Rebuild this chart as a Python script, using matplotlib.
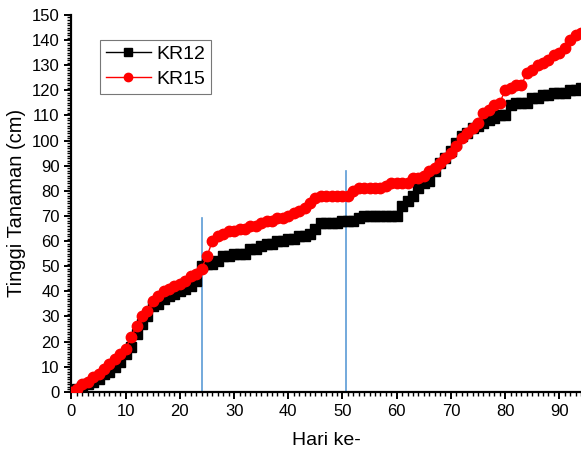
import numpy as np
import matplotlib.pyplot as plt
from matplotlib.ticker import MultipleLocator

plt.rcParams['font.family'] = ['Liberation Sans', 'DejaVu Sans']

# Hari ke- (days)
days = list(range(0, 95))

# Tinggi tanaman (cm)
kr12 = [0, 1, 2, 3, 4, 5, 7, 8, 10, 12,
        15, 18, 23, 27, 30, 34, 35, 37, 38, 39,
        40, 41, 42, 44, 50, 51, 51, 52, 54, 54,
        55, 55, 55, 57, 57, 58, 59, 59, 60, 60,
        61, 61, 62, 62, 63, 65, 67, 67, 67, 67,
        68, 68, 68, 69, 70, 70, 70, 70, 70, 70,
        70, 74, 76, 78, 81, 83, 84, 88, 91, 93,
        96, 99, 102, 103, 105, 106, 107, 108, 109, 110,
        110, 114, 115, 115, 115, 117, 117, 118, 118, 119,
        119, 119, 120, 120, 121]

kr15 = [0, 1, 3, 4, 6, 7, 9, 11, 13, 15,
        17, 22, 26, 30, 32, 36, 38, 40, 41, 42,
        43, 44, 46, 47, 49, 54, 60, 62, 63, 64,
        64, 65, 65, 66, 66, 67, 68, 68, 69, 69,
        70, 71, 72, 73, 75, 77, 78, 78, 78, 78,
        78, 78, 80, 81, 81, 81, 81, 81, 82, 83,
        83, 83, 83, 85, 85, 86, 88, 89, 91, 93,
        95, 98, 101, 103, 105, 107, 111, 112, 114, 115,
        120, 121, 122, 122, 127, 128, 130, 131, 132, 134,
        135, 137, 140, 142, 143]

# vertical marker lines (day, top height)
vline_x = [24.1, 50.6]
vline_top = [69, 88]

fig = plt.figure(figsize=(5.81, 4.54), dpi=100)
ax = fig.add_axes([0.123, 0.137, 0.877, 0.830])

for x, top in zip(vline_x, vline_top):
    ax.plot([x, x], [0, top], color='#5b9bd5', lw=1.2, zorder=1)

ax.plot(days, kr12, color='black', marker='s', markersize=6.5, lw=1,
        label='KR12', zorder=2)
ax.plot(days, kr15, color='red', marker='o', markersize=7.5, lw=1,
        label='KR15', zorder=3)

ax.set_xlim(0, 94)
ax.set_ylim(0, 150)
ax.xaxis.set_major_locator(MultipleLocator(10))
ax.xaxis.set_minor_locator(MultipleLocator(1))
ax.yaxis.set_major_locator(MultipleLocator(10))
ax.yaxis.set_minor_locator(MultipleLocator(1))

for s in ['top', 'right']:
    ax.spines[s].set_visible(False)
for s in ['left', 'bottom']:
    ax.spines[s].set_linewidth(1.6)

ax.tick_params(which='major', direction='out', length=5, width=1.4, labelsize=12)
ax.tick_params(which='minor', direction='out', length=3, width=1)

ax.set_xlabel('Hari ke-', fontsize=14, labelpad=10)
ax.set_ylabel('Tinggi Tanaman (cm)', fontsize=14.5, labelpad=4)

# legend markers a bit smaller than the data markers
leg = ax.legend(loc='upper left', bbox_to_anchor=(0.056, 0.934), fontsize=14,
                frameon=True, fancybox=False, handlelength=2.3,
                borderpad=0.3, labelspacing=0.35, handletextpad=0.3,
                borderaxespad=0, markerscale=0.8)
leg.get_frame().set_edgecolor('#555555')
leg.get_frame().set_linewidth(0.8)

plt.savefig('out.png', dpi=100)
